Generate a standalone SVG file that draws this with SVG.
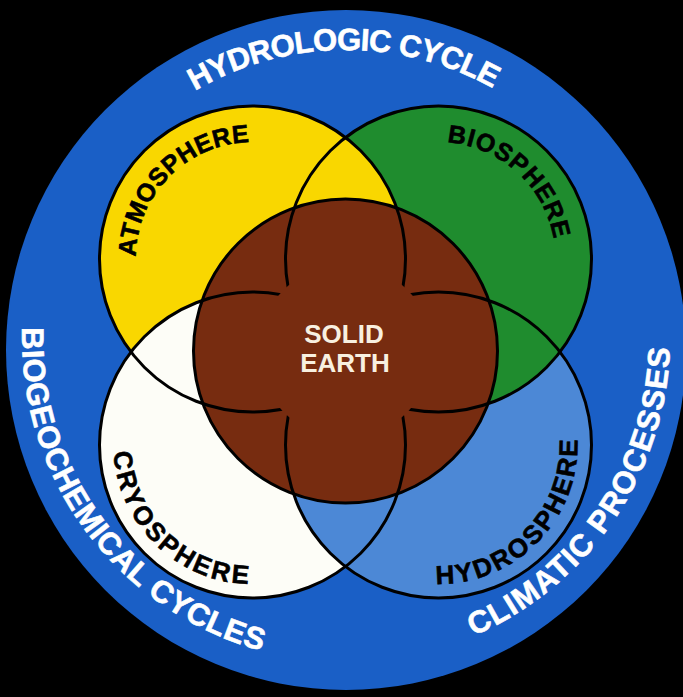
<svg xmlns="http://www.w3.org/2000/svg" width="683" height="697" viewBox="0 0 683 697">
<style>
.lbl{font-family:"Liberation Sans",Arial,sans-serif;font-weight:bold;}
.outer{fill:#ffffff;font-size:31px;stroke:#ffffff;stroke-width:0.6px;}
.inner{fill:#000000;font-size:26px;stroke:#000000;stroke-width:0.6px;}
.ring{fill:none;stroke:#000;stroke-width:3;}
</style>
<defs>
<path id="pTop" d="M 46 350 A 300 300 0 0 1 646 350"/>
<path id="pBio" d="M 65.4 176 A 324 324 0 0 0 508 618.6"/>
<path id="pClim" d="M 184 618.6 A 324 324 0 0 0 626.6 176"/>
<path id="pAtm" d="M 177.3 348.6 A 117 117 0 0 1 292.5 149.1"/>
<path id="pBios" d="M 363.3 169.4 A 117 117 0 0 1 539.8 317.5"/>
<path id="pCryo" d="M 132.1 375.5 A 139 139 0 0 0 341.8 551.5"/>
<path id="pHydro" d="M 349.2 551.5 A 139 139 0 0 0 558.9 375.5"/>
<clipPath id="clipWhite"><circle cx="252.5" cy="445" r="153"/></clipPath>
<mask id="hole" maskUnits="userSpaceOnUse" x="0" y="0" width="683" height="697">
<rect x="0" y="0" width="683" height="697" fill="#fff"/>
<circle cx="345.5" cy="351" r="87" fill="#000"/>
</mask>
</defs>
<rect x="0" y="0" width="683" height="697" fill="#000"/>
<g id="earth-system">
<circle cx="346" cy="350" r="340" fill="#1a5fc6"/>
<text class="lbl outer"><textPath href="#pTop" startOffset="468.6" text-anchor="middle" textLength="312" lengthAdjust="spacing">HYDROLOGIC CYCLE</textPath></text>
<text class="lbl outer"><textPath href="#pBio" startOffset="376" text-anchor="middle" textLength="434" lengthAdjust="spacing">BIOGEOCHEMICAL CYCLES</textPath></text>
<text class="lbl outer"><textPath href="#pClim" startOffset="484.6" text-anchor="middle" textLength="368" lengthAdjust="spacing">CLIMATIC PROCESSES</textPath></text>
</g>
<g id="hydrosphere">
<circle cx="438.5" cy="445" r="153" fill="#4c88d6"/>
<text class="lbl inner"><textPath href="#pHydro" startOffset="207.4" text-anchor="middle" textLength="226" lengthAdjust="spacing">HYDROSPHERE</textPath></text>
</g>
<g id="biosphere">
<circle cx="438.5" cy="259" r="153" fill="#1f8c2e"/>
<text class="lbl inner" style="font-size:25px"><textPath href="#pBios" startOffset="167.4" text-anchor="middle" textLength="155" lengthAdjust="spacing">BIOSPHERE</textPath></text>
</g>
<g id="atmosphere">
<circle cx="252.5" cy="259" r="153" fill="#f9d700"/>
<text class="lbl inner" style="font-size:25px"><textPath href="#pAtm" startOffset="193" text-anchor="middle" textLength="178" lengthAdjust="spacing">ATMOSPHERE</textPath></text>
</g>
<g id="cryosphere">
<circle cx="252.5" cy="445" r="153" fill="#fdfdf7"/>
<text class="lbl inner"><textPath href="#pCryo" startOffset="183.2" text-anchor="middle" textLength="207" lengthAdjust="spacing">CRYOSPHERE</textPath></text>
</g>
<g id="hydro-cryo-overlap">
<circle cx="438.5" cy="445" r="153" fill="#4c88d6" clip-path="url(#clipWhite)"/>
</g>
<g id="solid-earth">
<circle cx="345.5" cy="351" r="152" fill="#772c10"/>
<text class="lbl" x="344" y="343" font-size="26" fill="#f8f0e0" text-anchor="middle">SOLID</text>
<text class="lbl" x="345" y="372" font-size="26" fill="#f8f0e0" text-anchor="middle">EARTH</text>
</g>
<g id="connectors">
<g mask="url(#hole)">
<circle class="ring" cx="252.5" cy="259" r="153"/>
<circle class="ring" cx="438.5" cy="259" r="153"/>
<circle class="ring" cx="252.5" cy="445" r="153"/>
<circle class="ring" cx="438.5" cy="445" r="153"/>
</g>
<circle class="ring" cx="345.5" cy="351" r="152"/>
</g>
</svg>
